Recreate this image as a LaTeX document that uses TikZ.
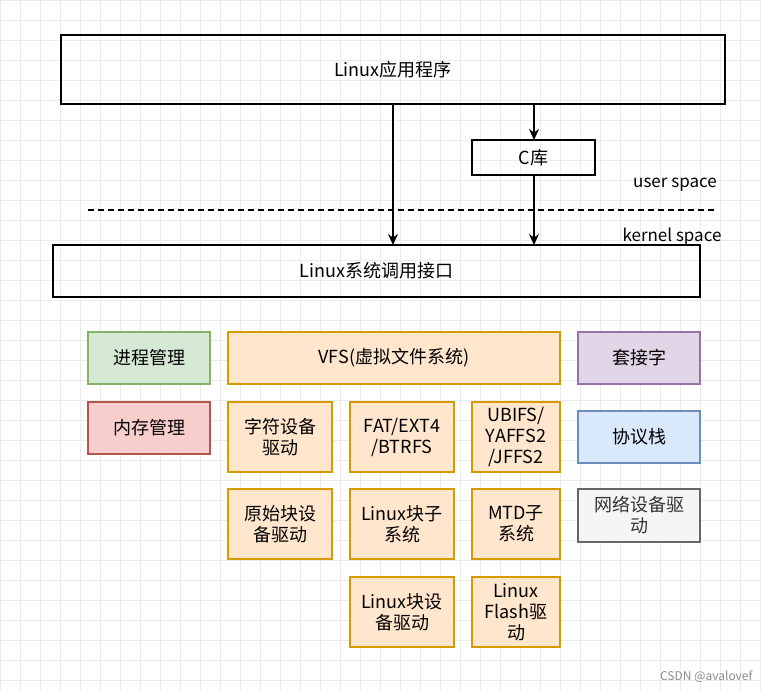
\documentclass[tikz,border=0pt]{standalone}
\usepackage{fontspec}
\setmainfont{Noto Sans CJK SC}
\usetikzlibrary{arrows.meta}
\definecolor{gF}{HTML}{D5E8D4}\definecolor{gS}{HTML}{82B366}
\definecolor{oF}{HTML}{FFE6CC}\definecolor{oS}{HTML}{D79B00}
\definecolor{pF}{HTML}{E1D5E7}\definecolor{pS}{HTML}{9673A6}
\definecolor{rF}{HTML}{F8CECC}\definecolor{rS}{HTML}{B85450}
\definecolor{bF}{HTML}{DAE8FC}\definecolor{bS}{HTML}{6C8EBF}
\definecolor{hF}{HTML}{F5F5F5}\definecolor{hS}{HTML}{666666}
\begin{document}
\begin{tikzpicture}[x=1pt,y=-1pt,
 bx/.style={draw,line width=1.5pt,font=\fontsize{18}{21}\selectfont,align=center,inner sep=0pt},
 cb/.style={draw=#1S,fill=#1F,line width=1.3pt,font=\fontsize{18}{21}\selectfont,align=center,inner sep=0pt},
 arr/.style={line width=1.3pt,-{Stealth[length=11pt,width=10pt]}}]
\useasboundingbox (0,0) rectangle (761,690);
\fill[white] (0,0) rectangle (761,690);
\foreach \i in {0,20,...,760} \draw[black!8,line width=0.5pt] (\i,0) -- (\i,690);
\foreach \j in {0,20,...,680} \draw[black!8,line width=0.5pt] (0,\j) -- (761,\j);
\newcommand{\bxn}[6]{\node[#1,minimum width=#4-#2,minimum height=#5-#3] (#6) at ({(#2+#4)/2},{(#3+#5)/2})}
\bxn{bx}{61}{35}{725}{104}{app} {Linux应用程序};
\bxn{bx}{472}{140}{595}{175}{clib} {C库};
\bxn{bx}{53}{245}{700}{297}{sys} {Linux系统调用接口};
\draw[line width=1.3pt,dash pattern=on 6pt off 4pt] (88,210) -- (714,210);
\node[font=\fontsize{17}{20}\selectfont] (us) at (675,185) {user space};
\node[font=\fontsize{17}{20}\selectfont] (ks) at (672,237) {kernel space};
\coordinate (a1) at (393,104); \coordinate (a2) at (393,245);
\coordinate (b1) at (534,104); \coordinate (b2) at (534,140);
\coordinate (c1) at (534,175); \coordinate (c2) at (534,245);
\draw[arr] (a1) -- (a2);
\draw[arr] (b1) -- (b2);
\draw[arr] (c1) -- (c2);
\bxn{cb=g}{88}{332}{210}{384}{p1}{进程管理};
\bxn{cb=o}{228}{332}{560}{384}{vfs}{VFS(虚拟文件系统)};
\bxn{cb=p}{578}{332}{700}{384}{sock}{套接字};
\bxn{cb=r}{88}{402}{210}{454}{mem}{内存管理};
\bxn{cb=b}{578}{411}{700}{463}{proto}{协议栈};
\bxn{cb=h,text=black!80}{578}{489}{700}{542}{net}{网络设备驱\\动};
\bxn{cb=o}{228}{402}{332}{472}{chr}{字符设备\\驱动};
\bxn{cb=o}{350}{402}{454}{472}{fat}{FAT/EXT4\\/BTRFS};
\bxn{cb=o}{472}{402}{560}{472}{ubi}{UBIFS/\\YAFFS2\\/JFFS2};
\bxn{cb=o}{228}{489}{332}{559}{raw}{原始块设\\备驱动};
\bxn{cb=o}{350}{489}{454}{559}{blk}{Linux块子\\系统};
\bxn{cb=o}{472}{489}{560}{559}{mtd}{MTD子\\系统};
\bxn{cb=o}{350}{577}{454}{647}{bdrv}{Linux块设\\备驱动};
\bxn{cb=o}{472}{577}{560}{647}{fl}{Linux\\Flash驱\\动};
\node[text=black!45,font=\fontsize{12}{14}\selectfont,anchor=east] (wm) at (756,677) {CSDN @avalovef};
\end{tikzpicture}
\end{document}
